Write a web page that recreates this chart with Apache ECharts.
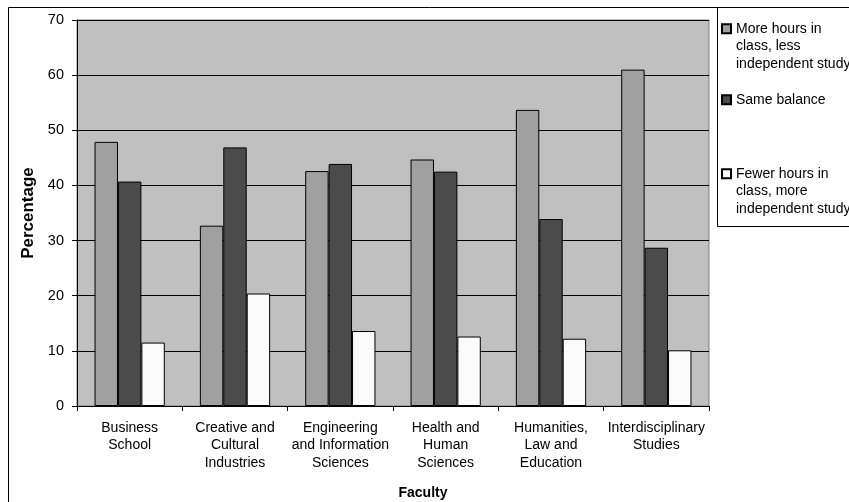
<!DOCTYPE html>
<html>
<head>
<meta charset="utf-8">
<script src="https://cdn.jsdelivr.net/npm/echarts@6/dist/echarts.min.js"></script>
<style>
  html, body { margin: 0; padding: 0; background: #fff; }
  #chart { width: 849px; height: 502px; }
</style>
</head>
<body>
<div id="chart"></div>
<script>
// faculties on the x axis
var faculties = [
    'Business\nSchool',
    'Creative and\nCultural\nIndustries',
    'Engineering\nand Information\nSciences',
    'Health and\nHuman\nSciences',
    'Humanities,\nLaw and\nEducation',
    'Interdisciplinary\nStudies'
];
var seriesNames = [
    'More hours in\nclass, less\nindependent study',
    'Same balance',
    'Fewer hours in\nclass, more\nindependent study'
];
var moreHours = [47.9, 32.7, 42.6, 44.7, 53.7, 61.0];
var sameBalance = [40.7, 46.9, 43.9, 42.5, 33.9, 28.7];
var fewerHours = [11.5, 20.4, 13.6, 12.6, 12.2, 10.1];
var yTicks = [0, 10, 20, 30, 40, 50, 60, 70];

var barColors = ['#a0a0a0', '#4b4b4b', '#fbfbfb'];
var font = 'Arial, "Liberation Sans", sans-serif';

function makeBar(name, data, color) {
    return {
        name: name,
        type: 'bar',
        data: data,
        barGap: 0,
        barCategoryGap: '33.3%',
        itemStyle: { color: color, borderColor: '#000', borderWidth: 1 },
        emphasis: { disabled: true }
    };
}

// one legend per entry, so each can sit where the original puts it;
// the leading blank lines keep the square beside the first line of text
function makeLegend(name, top) {
    var lines = name.split('\n').length;
    var text = lines > 1 ? new Array(lines).join('\n') + name : name;
    return {
        data: [name],
        left: 721,
        top: top,
        padding: 0,
        itemWidth: 9,
        itemHeight: 9,
        selectedMode: false,
        icon: 'rect',
        formatter: function () { return text; },
        textStyle: { color: '#000', fontSize: 14, lineHeight: 17.5, fontFamily: font }
    };
}

var myChart = echarts.init(document.getElementById('chart'));
myChart.setOption({
    animation: false,
    backgroundColor: '#fff',
    textStyle: { fontFamily: font },
    grid: {
        left: 77,
        right: 140,
        top: 20,
        bottom: 96,
        show: true,
        backgroundColor: '#c0c0c0',
        borderColor: '#808080',
        borderWidth: 1
    },
    legend: [
        makeLegend(seriesNames[0], -15),
        makeLegend(seriesNames[1], 91),
        makeLegend(seriesNames[2], 130)
    ],
    xAxis: {
        type: 'category',
        data: faculties,
        axisLine: { lineStyle: { color: '#000', width: 1 } },
        axisTick: { show: true, length: 5, lineStyle: { color: '#000' } },
        axisLabel: {
            interval: 0,
            color: '#000',
            fontSize: 14,
            lineHeight: 17.5,
            margin: 13,
            fontFamily: font
        }
    },
    yAxis: {
        type: 'value',
        min: yTicks[0],
        max: yTicks[yTicks.length - 1],
        interval: 10,
        name: 'Percentage',
        nameLocation: 'middle',
        nameGap: 36,
        nameRotate: 90,
        nameTextStyle: { color: '#000', fontSize: 17, fontWeight: 'bold', fontFamily: font },
        axisLine: { show: true, lineStyle: { color: '#000', width: 1 } },
        axisTick: { show: true, length: 5, lineStyle: { color: '#000' } },
        axisLabel: { color: '#000', fontSize: 14.5, margin: 13, fontFamily: font },
        splitLine: { lineStyle: { color: '#000', width: 1 } }
    },
    series: [
        makeBar(seriesNames[0], moreHours, barColors[0]),
        makeBar(seriesNames[1], sameBalance, barColors[1]),
        makeBar(seriesNames[2], fewerHours, barColors[2])
    ],
    graphic: [
        {   // outer chart border
            type: 'rect',
            shape: { x: 8.5, y: 7.5, width: 900, height: 600 },
            style: { fill: 'none', stroke: '#000', lineWidth: 1 },
            silent: true
        },
        {   // legend box
            type: 'rect',
            shape: { x: 717.5, y: 7.5, width: 200, height: 219 },
            style: { fill: 'none', stroke: '#000', lineWidth: 1 },
            silent: true
        },
        {
            type: 'text',
            x: 423,
            y: 493,
            style: {
                text: 'Faculty',
                fill: '#000',
                font: 'bold 14px ' + font,
                align: 'center',
                verticalAlign: 'middle'
            },
            silent: true
        }
    ]
});
</script>
</body>
</html>
